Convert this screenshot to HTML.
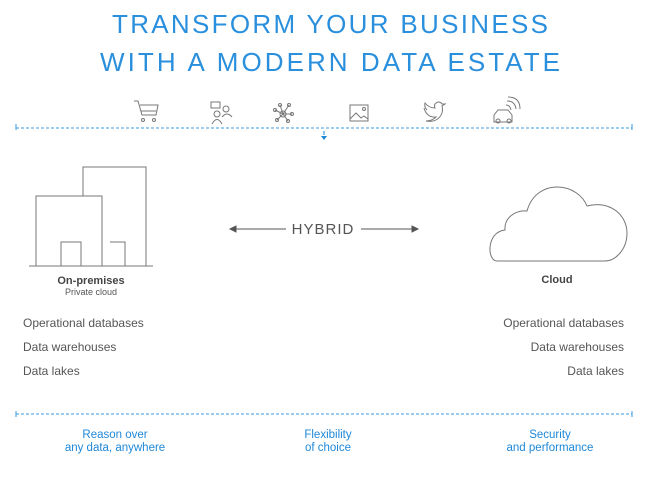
<!DOCTYPE html>
<html><head><style>
html,body{margin:0;padding:0;background:#fff;}
svg{display:block;font-family:"Liberation Sans",sans-serif;}
</style></head><body>
<svg width="650" height="488" viewBox="0 0 650 488" xmlns="http://www.w3.org/2000/svg">
<g fill="#2a8fdc" font-size="26">
<text x="112" y="33" textLength="436" lengthAdjust="spacing">TRANSFORM YOUR BUSINESS</text>
<text x="100" y="71" textLength="460" lengthAdjust="spacing">WITH A MODERN DATA ESTATE</text>
</g>
<!-- icons -->
<g fill="none" stroke="#777" stroke-width="1">
<path d="M134,101 h4 l4,14 h14 l2,-10 h-18"/><path d="M141,111 h15"/><circle cx="143" cy="120" r="1.5"/><circle cx="154" cy="120" r="1.5"/>
<rect x="211" y="102" width="9" height="6"/><circle cx="217" cy="114" r="3"/><circle cx="226" cy="109" r="3"/><path d="M212,124 q5,-9 10,0 M222,117 q5,-6 10,0"/>
<circle cx="283" cy="114" r="3"/><circle cx="275" cy="110" r="1.5"/><circle cx="280" cy="105" r="1.5"/><circle cx="289" cy="105" r="1.5"/><circle cx="292" cy="114" r="1.5"/><circle cx="288" cy="121" r="1.5"/><circle cx="277" cy="120" r="1.5"/><path d="M283,114 L275,110 M283,114 L280,105 M283,114 L289,105 M283,114 L292,114 M283,114 L288,121 M283,114 L277,120"/>
<rect x="350" y="105" width="18" height="16"/><path d="M350,119 l6,-6 l5,5 l3,-2 l4,3"/><circle cx="364" cy="109" r="1.5"/>
<path d="M424,108 q3,10 12,9 q-4,4 -10,4 q12,2 16,-8 q1,-4 0,-7 l3,-2 l-3,0 q-3,-4 -7,0 q-1,2 0,4 q-6,0 -10,-5 q-1,4 2,7"/>
<path d="M494,122 v-7 l4,-5 h10 l4,5 v7 z"/><circle cx="498" cy="121" r="2"/><circle cx="509" cy="121" r="2"/><path d="M506,105 q4,0 5,5 M507,101 q8,0 9,8 M508,97 q12,0 12,12"/>
</g>
<!-- dashed lines -->
<g stroke="#3a9ae0" stroke-width="1" stroke-dasharray="3,2" fill="none">
<path d="M16,128 H632"/><path d="M16,414 H632"/>
</g>
<path d="M16,124 v6 M632,124 v6 M16,411 v6 M632,411 v6" stroke="#3a9ae0"/>
<path d="M324,131 v4" stroke="#1e88d8"/><path d="M321,136 h6 l-3,4 z" fill="#1e88d8"/>
<!-- building -->
<g fill="none" stroke="#777" stroke-width="1">
<path d="M29,266 H153"/>
<path d="M36,266 V196 H102 V266"/>
<path d="M83,196 V167 H146 V266"/>
<path d="M61,266 V242 H81 V266"/>
<path d="M110,242 H125 V266"/>
</g>
<text x="91" y="284" font-size="11" font-weight="bold" fill="#444" text-anchor="middle">On-premises</text>
<text x="91" y="295" font-size="9" fill="#555" text-anchor="middle">Private cloud</text>
<!-- hybrid -->
<g stroke="#555" stroke-width="1" fill="#555">
<path d="M234,229 H286"/><path d="M230,229 l6,-3 v6 z"/>
<path d="M361,229 H414"/><path d="M418,229 l-6,-3 v6 z"/>
</g>
<text x="323" y="234" font-size="15" fill="#555" text-anchor="middle" letter-spacing="1">HYBRID</text>
<!-- cloud -->
<path d="M497,261 C487,261 486,232 505,230 C504,218 515,210 527,211 C532,193 546,187 557,187 C572,187 583,196 587,206 C610,200 627,215 627,233 C627,250 615,261 605,261 Z" fill="none" stroke="#777" stroke-width="1"/>
<text x="557" y="283" font-size="11" font-weight="bold" fill="#444" text-anchor="middle">Cloud</text>
<g font-size="12" fill="#555">
<text x="23" y="327">Operational databases</text>
<text x="23" y="351">Data warehouses</text>
<text x="23" y="375">Data lakes</text>
<g text-anchor="end">
<text x="624" y="327">Operational databases</text>
<text x="624" y="351">Data warehouses</text>
<text x="624" y="375">Data lakes</text>
</g>
</g>
<g font-size="11.5" fill="#1e88d8" text-anchor="middle">
<text x="115" y="438">Reason over</text><text x="115" y="451">any data, anywhere</text>
<text x="328" y="438">Flexibility</text><text x="328" y="451">of choice</text>
<text x="550" y="438">Security</text><text x="550" y="451">and performance</text>
</g>
</svg>
</body></html>
